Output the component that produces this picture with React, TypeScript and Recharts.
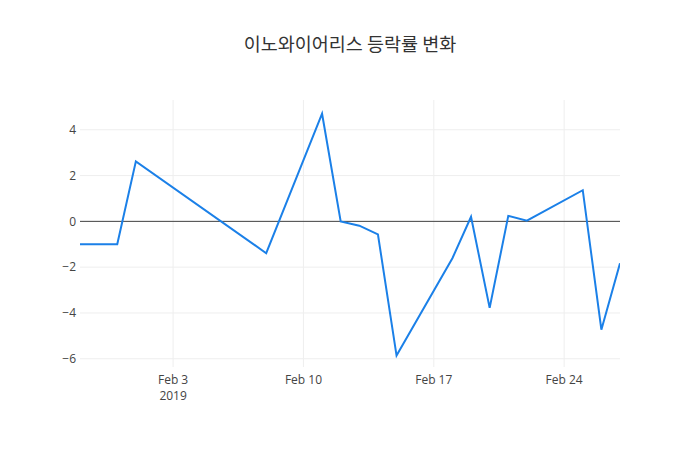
import React from "react";
import {
  LineChart,
  Line,
  XAxis,
  YAxis,
  CartesianGrid,
  ReferenceLine,
} from "recharts";

// trading days shown (2019), values in %
const dates = [
  "2019-01-29",
  "2019-01-31",
  "2019-02-01",
  "2019-02-08",
  "2019-02-11",
  "2019-02-12",
  "2019-02-13",
  "2019-02-14",
  "2019-02-15",
  "2019-02-18",
  "2019-02-19",
  "2019-02-20",
  "2019-02-21",
  "2019-02-22",
  "2019-02-25",
  "2019-02-26",
  "2019-02-27",
];
const changes = [
  -1.0, -1.0, 2.62, -1.39, 4.7, 0.0, -0.19, -0.57, -5.86, -1.61, 0.2, -3.78,
  0.24, 0.03, 1.36, -4.73, -1.83,
];

const xTickDates = ["2019-02-03", "2019-02-10", "2019-02-17", "2019-02-24"];
const xTickLabels = ["Feb 3", "Feb 10", "Feb 17", "Feb 24"];
const yTicks = [-6, -4, -2, 0, 2, 4];

const toTime = (d: string) => Date.parse(d + "T00:00:00Z");

const data = dates.map((d, i) => ({ t: toTime(d), v: changes[i] }));
const xTicks = xTickDates.map(toTime);

const FONT = '"Open Sans", "Noto Sans", sans-serif';

function DateTick(props: any) {
  const { x, y, payload } = props;
  const idx = xTicks.indexOf(payload.value);
  return (
    <g>
      <text
        x={x}
        y={y + 15}
        textAnchor="middle"
        fontSize={12}
        fill="#444"
        fontFamily={FONT}
      >
        {xTickLabels[idx]}
      </text>
      {idx === 0 && (
        <text
          x={x}
          y={y + 31}
          textAnchor="middle"
          fontSize={12}
          fill="#444"
          fontFamily={FONT}
        >
          2019
        </text>
      )}
    </g>
  );
}

const fmtY = (v: number) => (v < 0 ? "\u2212" + Math.abs(v) : String(v));

export default function App() {
  return (
    <div
      style={{
        position: "absolute",
        left: 0,
        top: 0,
        width: 700,
        height: 450,
        background: "#fff",
      }}
    >
      <div
        style={{
          position: "absolute",
          top: 30,
          width: 700,
          textAlign: "center",
          fontFamily: '"Noto Sans CJK KR", "Open Sans", sans-serif',
          fontSize: 18.5,
          color: "#333",
        }}
      >
        이노와이어리스 등락률 변화
      </div>
      <LineChart
        width={700}
        height={450}
        data={data}
        margin={{ top: 100, right: 80, bottom: 0, left: 50 }}
      >
        <CartesianGrid stroke="#eee" horizontalValues={yTicks} verticalValues={xTicks} />
        <XAxis
          dataKey="t"
          type="number"
          scale="time"
          domain={[toTime("2019-01-29"), toTime("2019-02-27")]}
          ticks={xTicks}
          tick={<DateTick />}
          axisLine={false}
          tickLine={false}
          tickSize={0}
          height={83}
          allowDataOverflow
        />
        <YAxis
          type="number"
          domain={[-6.36, 5.3]}
          ticks={yTicks}
          tickFormatter={fmtY}
          width={30}
          axisLine={false}
          tickLine={false}
          tickSize={0}
          tickMargin={4}
          allowDataOverflow
          tick={{ fontSize: 12, fill: "#444", fontFamily: FONT }}
        />
        <ReferenceLine y={0} stroke="#444" strokeWidth={1} />
        <Line
          type="linear"
          dataKey="v"
          stroke="#1b80e8"
          strokeWidth={2}
          dot={false}
          isAnimationActive={false}
        />
      </LineChart>
    </div>
  );
}
